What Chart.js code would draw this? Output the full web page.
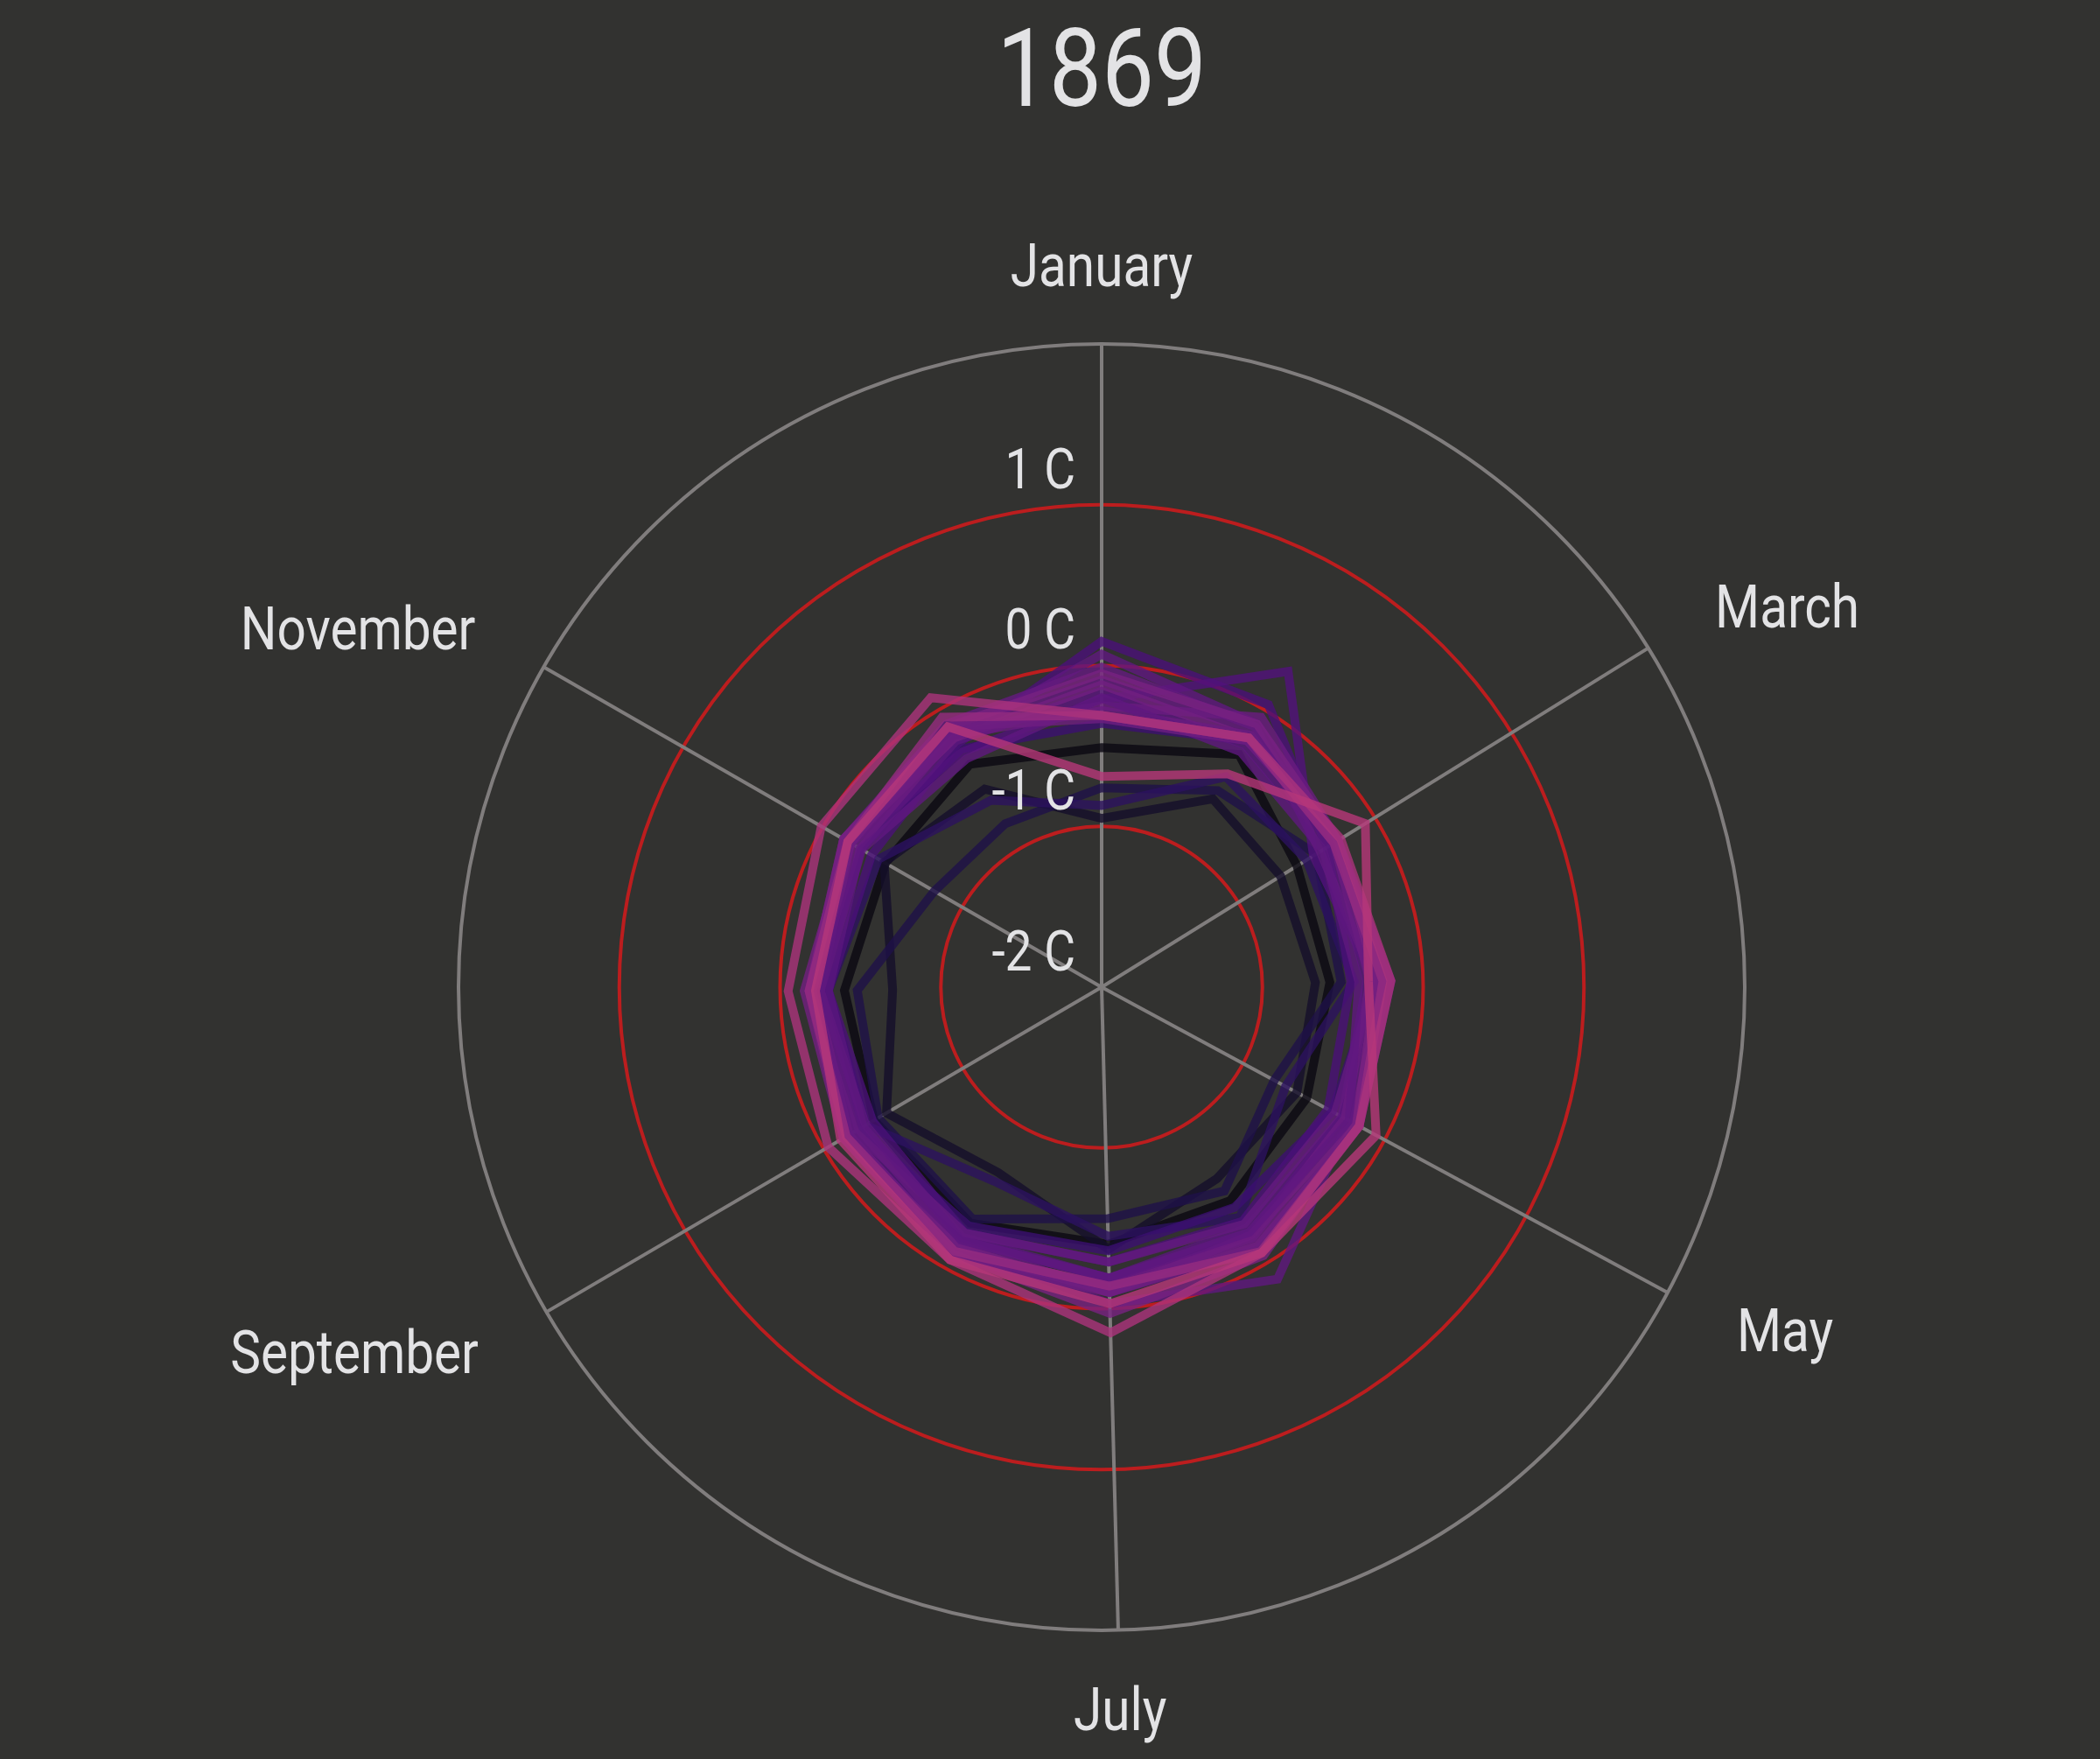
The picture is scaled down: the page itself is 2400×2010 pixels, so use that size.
<!DOCTYPE html>
<html>
<head>
<meta charset="utf-8">
<script src="https://cdn.jsdelivr.net/npm/chart.js@4.4.1/dist/chart.umd.min.js"></script>
<style>
  html, body { margin: 0; padding: 0; background: #323230; }
  #wrap { width: 2400px; height: 2010px; }
</style>
</head>
<body>
<div id="wrap"><canvas id="c" width="2400" height="2010"></canvas></div>
<script>
// ---------------- data ----------------
const chartTitle = '1869';
const months = ['January','February','March','April','May','June','July','August','September','October','November','December'];
const monthStartDay = [0, 31, 59, 90, 120, 151, 181, 212, 243, 273, 304, 334];
const daysInYear = 365;
const labeledMonths = ['January','March','May','July','September','November'];
const tickValues = [-2, -1, 0, 1];
const tickLabels = ['-2 C', '-1 C', '0 C', '1 C'];
const years = [1850,1851,1852,1853,1854,1855,1856,1857,1858,1859,1860,1861,1862,1863,1864,1865,1866,1867,1868,1869];

// monthly anomalies (C), January .. December
const y1850 = [-0.51,-0.32,-0.57,-0.58,-0.55,-0.45,-0.40,-0.32,-0.36,-0.40,-0.45,-0.39];
const y1851 = [-0.95,-0.64,-0.69,-0.67,-0.62,-0.61,-0.37,-0.68,-0.45,-0.70,-0.44,-0.57];
const y1852 = [-0.76,-0.58,-0.43,-0.51,-0.78,-0.52,-0.56,-0.35,-0.39,-0.48,-0.80,-0.82];
const y1853 = [-0.87,-0.48,-0.50,-0.43,-0.70,-0.33,-0.45,-0.62,-0.30,-0.30,-0.40,-0.65];
const y1854 = [-0.36,-0.22,-0.27,-0.29,-0.37,-0.40,-0.36,-0.30,-0.25,-0.24,-0.27,-0.28];
const y1855 = [ 0.15, 0.04,-0.35,-0.45,-0.40,-0.30,-0.29,-0.25,-0.35,-0.30,-0.35,-0.24];
const y1856 = [-0.21, 0.28,-0.45,-0.30,-0.30,-0.20,-0.19,-0.20,-0.20,-0.18,-0.20,-0.30];
const y1857 = [ 0.07,-0.10,-0.30,-0.25,-0.25, 0.12,-0.03,-0.15,-0.16,-0.20,-0.18,-0.20];
const y1858 = [-0.09,-0.15,-0.27,-0.20,-0.18,-0.10,-0.10,-0.18,-0.25,-0.25,-0.20,-0.15];
const y1859 = [-0.16,-0.25,-0.33,-0.35,-0.30,-0.25,-0.19,-0.22,-0.28,-0.30,-0.27,-0.22];
const y1860 = [-0.25,-0.05,-0.27,-0.22,-0.20,-0.15,-0.14,-0.12,-0.18,-0.22,-0.15,-0.15];
const y1861 = [-0.01,-0.12,-0.40,-0.30,-0.35,-0.28,-0.29,-0.25,-0.22,-0.18,-0.15,-0.10];
const y1862 = [-0.12,-0.20,-0.28,-0.25,-0.22,-0.20,-0.10,-0.15,-0.14,-0.15,-0.18,-0.20];
const y1863 = [-0.28,-0.18,-0.30,-0.33,-0.28,-0.18,-0.14,-0.10,-0.16,-0.20,-0.25,-0.18];
const y1864 = [-0.20,-0.30,-0.38,-0.40,-0.25,-0.22,-0.19,-0.20,-0.30,-0.25,-0.28,-0.35];
const y1865 = [-0.05,-0.10,-0.27,-0.29,-0.20,-0.05, 0.03,-0.10,-0.14,-0.18,-0.15,-0.12];
const y1866 = [-0.33,-0.22,-0.27,-0.25,-0.18,-0.12,-0.10,-0.08,-0.14,-0.20,-0.20,-0.12];
const y1867 = [-0.31,-0.20,-0.30,-0.25,-0.18,-0.08,-0.14,-0.12,-0.16,-0.18,-0.18,-0.05];
const y1868 = [-0.31,-0.20,-0.25,-0.20,-0.18,-0.07, 0.15,-0.06,-0.03,-0.05, 0.01, 0.09];
const y1869 = [-0.69,-0.46,-0.07,-0.34,-0.06,-0.07,-0.03,-0.06,-0.12,-0.22,-0.18,-0.12];

const yearValues = [y1850,y1851,y1852,y1853,y1854,y1855,y1856,y1857,y1858,y1859,
                    y1860,y1861,y1862,y1863,y1864,y1865,y1866,y1867,y1868,y1869];

// ---------------- styles ----------------
const yearColors = ['#0a0712','#140e2a','#1e1048','#2c115f','#3b0f70','#4a1078','#51127c','#5f187f','#641a80','#5a167e',
                    '#6a1c81','#641a80','#721f81','#6a1c81','#5f187f','#782281','#6e1e81','#962c80','#ab337c','#b73779'];
const lineAlpha = 0.8;
const bgColor = '#323230';
const textColor = '#e3e3e5';
const gridGray = '#807d7d';
const gridRed = '#bc1d1e';

function withAlpha(hex, a) {
  const n = parseInt(hex.slice(1), 16);
  return `rgba(${(n >> 16) & 255},${(n >> 8) & 255},${n & 255},${a})`;
}

// labels: one per day of the year, month names at month starts
const dayLabels = Array.from({length: daysInYear}, (_, d) => {
  const mi = monthStartDay.indexOf(d);
  return mi >= 0 ? months[mi] : '';
});
const spokeDays = labeledMonths.map(m => monthStartDay[months.indexOf(m)]);

const datasets = years.map((yr, i) => {
  const data = new Array(daysInYear).fill(null);
  monthStartDay.forEach((d, m) => { data[d] = yearValues[i][m]; });
  return {
    label: String(yr),
    data,
    borderColor: withAlpha(yearColors[i], lineAlpha),
    backgroundColor: 'rgba(0,0,0,0)',
    borderWidth: 10,
    pointRadius: 0,
    pointHoverRadius: 0,
    fill: false,
    spanGaps: true,
    tension: 0,
    order: years.length - 1 - i
  };
});

let condense = null;
function getCondense(ctx) {
  if (condense) return condense;
  ctx.save();
  ctx.font = '100px Roboto';
  const w1 = ctx.measureText('January 1869').width;
  ctx.font = 'condensed 100px Roboto';
  const ok = ctx.font.indexOf('condensed') >= 0;
  const w2 = ctx.measureText('January 1869').width;
  ctx.restore();
  condense = (ok && w2 < w1 * 0.93) ? {stretch: 'condensed ', k: 1} : {stretch: '', k: 0.86};
  return condense;
}

function drawText(ctx, text, x, yCapCenter, size, align) {
  const cf = getCondense(ctx);
  ctx.save();
  ctx.font = cf.stretch + size + 'px Roboto';
  ctx.fillStyle = textColor;
  ctx.textAlign = align;
  ctx.textBaseline = 'alphabetic';
  ctx.translate(x, yCapCenter + size * 0.711 / 2);
  ctx.scale(cf.k, 1);
  ctx.fillText(text, 0, 0);
  ctx.restore();
}

const textPlugin = {
  id: 'spiralTexts',
  beforeDraw(chart) {
    const ctx = chart.ctx;
    ctx.save();
    ctx.fillStyle = bgColor;
    ctx.fillRect(0, 0, chart.width, chart.height);
    ctx.restore();
  },
  afterDatasetsDraw(chart) {
    const ctx = chart.ctx;
    const r = chart.scales.r;
    // radial tick labels, left of the January spoke, just above each ring
    tickValues.forEach((v, i) => {
      const d = r.getDistanceFromCenterForValue(v);
      drawText(ctx, tickLabels[i], r.xCenter - 30, r.yCenter - d - 42, 64, 'right');
    });
    // month labels
    labeledMonths.forEach(m => {
      const day = monthStartDay[months.indexOf(m)];
      const p = r.getPointPosition(day, r.drawingArea + 90);
      const deg = day * 360 / daysInYear;
      let align = 'center';
      if (deg > 5 && deg < 175) align = 'left';
      else if (deg > 185 && deg < 355) align = 'right';
      drawText(ctx, m, p.x, p.y, 68, align);
    });
    // title
    drawText(ctx, chartTitle, r.xCenter, 77, 124, 'center');
  }
};

new Chart(document.getElementById('c'), {
  type: 'radar',
  data: { labels: dayLabels, datasets },
  options: {
    responsive: false,
    animation: false,
    devicePixelRatio: 1,
    layout: { padding: { left: 524, right: 406, top: 393, bottom: 147 } },
    plugins: {
      legend: { display: false },
      title: { display: false },
      tooltip: { enabled: false }
    },
    elements: { line: { borderJoinStyle: 'miter' } },
    scales: {
      r: {
        min: -2,
        max: 2,
        startAngle: 0,
        ticks: { display: false, stepSize: 1 },
        pointLabels: { display: false },
        grid: {
          circular: true,
          lineWidth: 4,
          color: (c) => c.tick && c.tick.value === 2 ? gridGray : (c.tick && c.tick.value === -2 ? 'rgba(0,0,0,0)' : gridRed)
        },
        angleLines: {
          display: true,
          color: gridGray,
          lineWidth: (c) => spokeDays.includes(c.index) ? 4 : 0
        }
      }
    }
  },
  plugins: [textPlugin]
});
</script>
</body>
</html>
